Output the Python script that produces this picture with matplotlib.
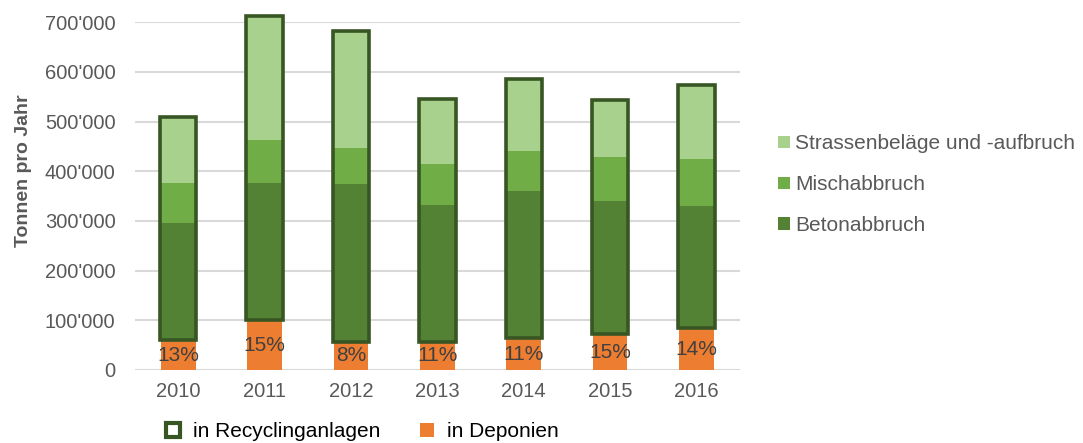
import matplotlib
matplotlib.use('Agg')
import matplotlib.pyplot as plt
from matplotlib.patches import Patch
import numpy as np

plt.rcParams['font.family'] = ['Liberation Sans', 'DejaVu Sans']

years = ['2010', '2011', '2012', '2013', '2014', '2015', '2016']
deponien = [60, 100, 57, 57, 64, 72, 84]          # 1000 t
beton = [235, 277, 317, 276, 297, 268, 246]
misch = [82, 86, 73, 82, 80, 88, 95]
strassen = [132, 249, 236, 131, 144, 115, 149]
pct_labels = ['13%', '15%', '8%', '11%', '11%', '15%', '14%']
yticks = [0, 100, 200, 300, 400, 500, 600, 700]
ytick_labels = ['0', "100'000", "200'000", "300'000", "400'000", "500'000", "600'000", "700'000"]

c_dep = '#ED7D31'
c_beton = '#548235'
c_misch = '#70AD47'
c_str = '#A9D18E'
c_edge = '#375623'
c_text = '#595959'

fig = plt.figure(figsize=(10.83, 4.43), dpi=100)
ax = fig.add_axes([0.1247, 0.1648, 0.683 - 0.1247, 0.950 - 0.1648])

x = np.arange(len(years))
dep = np.array(deponien)
bt = np.array(beton)
ms = np.array(misch)
st = np.array(strassen)
w = 0.40

ax.bar(x, dep, w, color=c_dep, zorder=2)
ax.bar(x, bt, w, bottom=dep, color=c_beton, zorder=2)
ax.bar(x, ms, w, bottom=dep + bt, color=c_misch, zorder=2)
ax.bar(x, st, w, bottom=dep + bt + ms, color=c_str, zorder=2, clip_on=False)
# outline around recycling part
ax.bar(x, bt + ms + st, 0.42, bottom=dep, facecolor='none', edgecolor=c_edge,
       linewidth=2.6, zorder=3, clip_on=False)

for i in range(len(years)):
    ax.text(x[i], dep[i] / 2, pct_labels[i], ha='center', va='center',
            fontsize=15, color='#404040', zorder=4)

ax.set_xlim(-0.5, len(years) - 0.5)
ax.set_ylim(0, 700)
ax.set_yticks(yticks)
ax.set_yticklabels(ytick_labels)
ax.set_xticks(x)
ax.set_xticklabels(years)
ax.tick_params(axis='both', length=0, labelsize=14.5, colors=c_text)
ax.tick_params(axis='x', pad=9)
ax.tick_params(axis='y', pad=14)
ax.grid(axis='y', color='#D9D9D9', linewidth=1.5, zorder=0)
ax.set_axisbelow(True)
for s in ax.spines.values():
    s.set_visible(False)

ax.set_ylabel('Tonnen pro Jahr', fontsize=14, fontweight='bold', color=c_text)
ax.yaxis.set_label_coords(-0.170, 0.572)

h_right = [Patch(facecolor=c_str), Patch(facecolor=c_misch), Patch(facecolor=c_beton)]
fig.legend(h_right, ['Strassenbeläge und -aufbruch', 'Mischabbruch', 'Betonabbruch'],
           loc='center left', bbox_to_anchor=(0.7185, 0.583), frameon=False,
           fontsize=15, handlelength=0.55, handleheight=0.55, handletextpad=0.25,
           labelspacing=1.05, labelcolor=c_text, borderpad=0, borderaxespad=0)

h_bottom = [Patch(facecolor='white', edgecolor=c_edge, linewidth=3), Patch(facecolor=c_dep)]
fig.legend(h_bottom, ['in Recyclinganlagen', 'in Deponien'],
           loc='center left', bbox_to_anchor=(0.153, 0.025), frameon=False, ncol=2,
           fontsize=15, handlelength=0.7, handleheight=0.7, handletextpad=0.6,
           columnspacing=1.9, labelcolor='black', borderpad=0, borderaxespad=0)

fig.savefig('out.png', dpi=100)
